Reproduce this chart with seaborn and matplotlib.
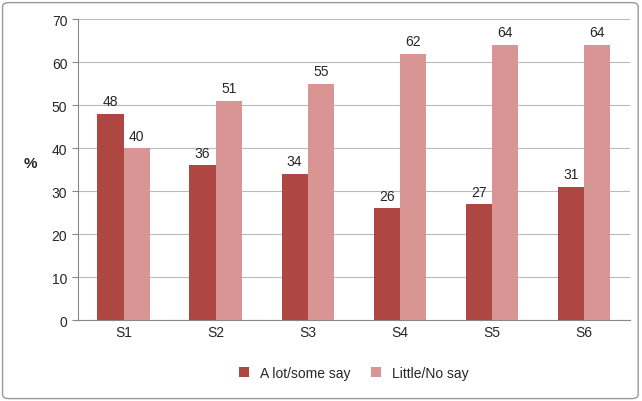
import matplotlib
matplotlib.use("Agg")
import matplotlib.pyplot as plt
import seaborn as sns
import pandas as pd
from matplotlib.patches import FancyBboxPatch

categories = ["S1", "S2", "S3", "S4", "S5", "S6"]
series_names = ["A lot/some say", "Little/No say"]
lot_some = [48, 36, 34, 26, 27, 31]
little_no = [40, 51, 55, 62, 64, 64]
colors = ["#AE4642", "#D99594"]

df = pd.DataFrame({
    "cat": categories * 2,
    "series": [series_names[0]] * 6 + [series_names[1]] * 6,
    "val": lot_some + little_no,
})

sns.set_style("white")
plt.rcParams['font.family'] = ['Liberation Sans', 'DejaVu Sans']
fig = plt.figure(figsize=(6.42, 4.02), dpi=100)
ax = fig.add_axes([0.121, 0.201, 0.86, 0.749])
fig.patches.append(FancyBboxPatch((0.004, 0.006), 0.99, 0.985, boxstyle="round,pad=0,rounding_size=0.01",
                                  transform=fig.transFigure, fill=False, edgecolor="#999999", lw=1))
sns.barplot(data=df, x="cat", y="val", hue="series", palette=colors, width=0.57,
            saturation=1, ax=ax, legend=True, linewidth=0, edgecolor="none")
ax.set_ylim(0, 70)
ax.set_yticks(range(0, 71, 10))
ax.yaxis.grid(True, color="#BBBBBB", lw=0.8)
ax.set_axisbelow(True)
for c in ax.containers:
    ax.bar_label(c, padding=4, fontsize=10)
ax.set_xlabel("")
ax.set_ylabel("%", rotation=0, fontsize=11, fontweight="bold", labelpad=14)
ax.yaxis.set_label_coords(-0.085, 0.5)
for s in ["top", "right"]:
    ax.spines[s].set_visible(False)
ax.spines["left"].set_color("#888888")
ax.spines["bottom"].set_color("#888888")
ax.tick_params(axis="both", labelsize=10, length=4, color="#888888", left=True, bottom=True)
ax.set_xticks([i + 0.5 for i in range(-1, 6)], minor=True)
ax.tick_params(axis="x", which="major", length=0)
ax.tick_params(axis="x", which="minor", length=5, color="#888888")
ax.legend(loc="upper center", bbox_to_anchor=(0.5, -0.11), ncol=2, frameon=False, fontsize=10,
          handlelength=0.7, handleheight=0.7, columnspacing=1.5)
fig.savefig("out.png", dpi=100)
